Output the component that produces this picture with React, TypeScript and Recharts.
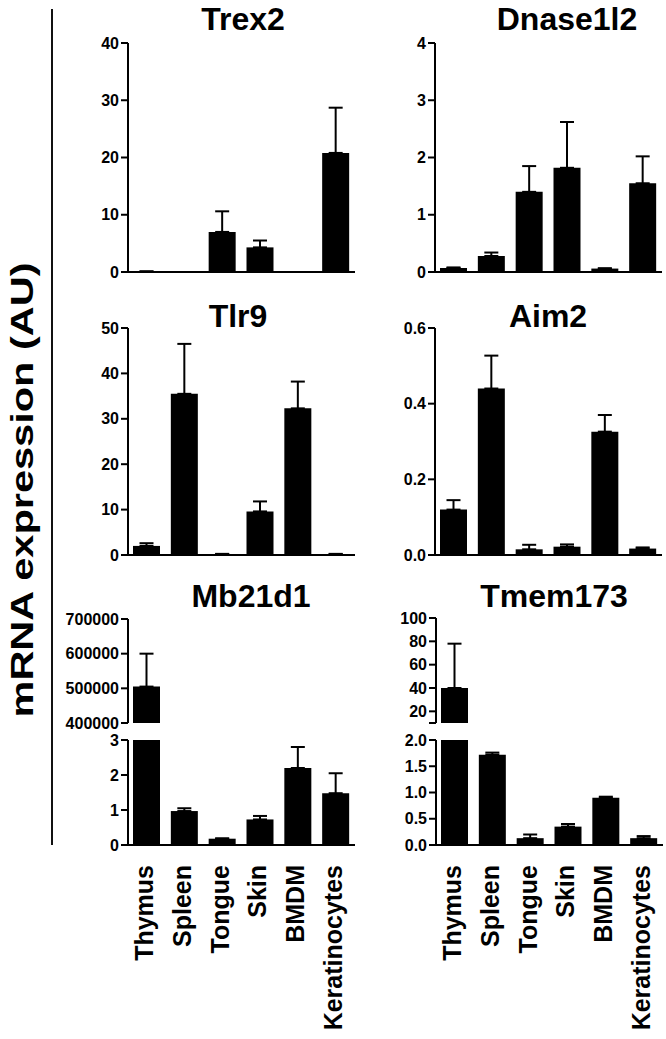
import { BarChart, Bar, XAxis, YAxis, ErrorBar } from "recharts";

const tissues = ["Thymus", "Spleen", "Tongue", "Skin", "BMDM", "Keratinocytes"];

// means and SEM
const trex2Mean = [0.1, 0, 7.0, 4.3, 0, 20.8];
const trex2Sem = [0, 0, 3.6, 1.2, 0, 7.9];

const dnaseMean = [0.07, 0.28, 1.4, 1.82, 0.06, 1.55];
const dnaseSem = [0.01, 0.06, 0.45, 0.8, 0.005, 0.47];

const tlr9Mean = [2.0, 35.5, 0.2, 9.6, 32.3, 0.2];
const tlr9Sem = [0.6, 11.0, 0.05, 2.2, 5.9, 0.05];

const aim2Mean = [0.12, 0.44, 0.015, 0.022, 0.326, 0.017];
const aim2Sem = [0.025, 0.087, 0.012, 0.006, 0.044, 0.003];

const mb21d1Mean = [505000, 0.97, 0.18, 0.73, 2.2, 1.48];
const mb21d1Sem = [95000, 0.08, 0.01, 0.1, 0.6, 0.57];

const tmemMean = [40, 1.72, 0.13, 0.35, 0.9, 0.13];
const tmemSem = [38, 0.04, 0.07, 0.05, 0.02, 0.04];

const trex2Ticks = [0, 10, 20, 30, 40];
const dnaseTicks = [0, 1, 2, 3, 4];
const tlr9Ticks = [0, 10, 20, 30, 40, 50];
const aim2Ticks = [0, 0.2, 0.4, 0.6];
const mbHighTicks = [400000, 500000, 600000, 700000];
const mbLowTicks = [0, 1, 2, 3];
const tmemHighTicks = [10, 20, 40, 60, 80, 100];
const tmemLowTicks = [0, 0.5, 1, 1.5, 2];

const FONT = "'Liberation Sans', Arial, Helvetica, sans-serif";
const YW = 72;
const PW = 227;
const PAD = 12;

const RotTick = (props: any) => {
  const { x, y, payload } = props;
  return (
    <text
      x={0}
      y={0}
      transform={`translate(${x + 6},${y + 20}) rotate(-90)`}
      textAnchor="end"
      fontSize={25}
      fontWeight="bold"
      fontFamily={FONT}
      fill="#000"
    >
      {payload.value}
    </text>
  );
};

type PanelProps = {
  axisX: number;
  plotTop: number;
  plotH: number;
  mean: number[];
  sem: number[];
  domain: [number, number];
  ticks: number[];
  fmt?: (v: number) => string;
  xMode: "line" | "labels" | "none";
  cut?: boolean;
};

function Panel(p: PanelProps) {
  const data = tissues.map((name, i) => {
    const keep = !p.cut || p.mean[i] >= p.domain[0];
    return {
      name,
      v: keep ? p.mean[i] : null,
      e: keep ? [0, p.sem[i]] : null,
    };
  });
  const xH = p.xMode === "labels" ? 190 : p.xMode === "line" ? 2 : 0;
  const bottom = 10;
  return (
    <div style={{ position: "absolute", left: p.axisX - YW, top: p.plotTop - PAD }}>
      <BarChart
        width={YW + PW + 6}
        height={PAD + p.plotH + xH + bottom}
        data={data}
        margin={{ top: PAD, right: 6, left: 0, bottom }}
        barSize={27}
      >
        <XAxis
          dataKey="name"
          hide={p.xMode === "none"}
          height={xH}
          interval={0}
          tickLine={false}
          tickSize={0}
          tickMargin={0}
          tick={p.xMode === "labels" ? <RotTick /> : false}
          axisLine={{ stroke: "#000", strokeWidth: 2 }}
        />
        <YAxis
          type="number"
          width={YW}
          domain={p.domain}
          ticks={p.ticks}
          allowDataOverflow
          interval={0}
          tickFormatter={p.fmt}
          tickSize={7}
          tickMargin={2}
          axisLine={{ stroke: "#000", strokeWidth: 2 }}
          tickLine={{ stroke: "#000", strokeWidth: 2 }}
          tick={{ fill: "#000", fontSize: 16, fontWeight: "bold", fontFamily: FONT }}
        />
        <Bar dataKey="v" fill="#000" isAnimationActive={false}>
          <ErrorBar dataKey="e" direction="y" width={7} stroke="#000" strokeWidth={2} />
        </Bar>
      </BarChart>
    </div>
  );
}

const oneDec = (v: number) => v.toFixed(1);
const hideTen = (v: number) => (v === 10 ? "" : String(v));

const titles = [
  { text: "Trex2", x: 243, y: 30 },
  { text: "Dnase1l2", x: 567, y: 30 },
  { text: "Tlr9", x: 238, y: 327 },
  { text: "Aim2", x: 548, y: 327 },
  { text: "Mb21d1", x: 251, y: 607 },
  { text: "Tmem173", x: 554, y: 607 },
];

export default function App() {
  return (
    <div style={{ position: "absolute", left: 0, top: 0, width: 666, height: 1039, background: "#fff" }}>
      <svg width={666} height={1039} style={{ position: "absolute", left: 0, top: 0 }}>
        <line x1={52} y1={9} x2={52} y2={845} stroke="#111" strokeWidth={2} />
        <text
          x={0}
          y={0}
          transform="translate(33,490) rotate(-90)"
          textAnchor="middle"
          fontSize={31}
          fontWeight="bold"
          fontFamily={FONT}
          textLength={455}
          lengthAdjust="spacingAndGlyphs"
        >
          mRNA expression (AU)
        </text>
        {titles.map((t) => (
          <text key={t.text} x={t.x} y={t.y} textAnchor="middle" fontSize={32} fontWeight="bold" fontFamily={FONT}>
            {t.text}
          </text>
        ))}
      </svg>

      <Panel axisX={128} plotTop={43} plotH={229} mean={trex2Mean} sem={trex2Sem} domain={[0, 40]} ticks={trex2Ticks} xMode="line" />
      <Panel axisX={435} plotTop={43} plotH={229} mean={dnaseMean} sem={dnaseSem} domain={[0, 4]} ticks={dnaseTicks} xMode="line" />

      <Panel axisX={128} plotTop={328} plotH={227} mean={tlr9Mean} sem={tlr9Sem} domain={[0, 50]} ticks={tlr9Ticks} xMode="line" />
      <Panel axisX={435} plotTop={328} plotH={227} mean={aim2Mean} sem={aim2Sem} domain={[0, 0.6]} ticks={aim2Ticks} fmt={oneDec} xMode="line" />

      <Panel axisX={128} plotTop={619} plotH={104} mean={mb21d1Mean} sem={mb21d1Sem} domain={[400000, 700000]} ticks={mbHighTicks} xMode="none" cut />
      <Panel axisX={128} plotTop={740} plotH={105} mean={mb21d1Mean} sem={mb21d1Sem} domain={[0, 3]} ticks={mbLowTicks} xMode="labels" />

      <Panel axisX={436} plotTop={618} plotH={105} mean={tmemMean} sem={tmemSem} domain={[10, 100]} ticks={tmemHighTicks} fmt={hideTen} xMode="none" cut />
      <Panel axisX={436} plotTop={740} plotH={105} mean={tmemMean} sem={tmemSem} domain={[0, 2]} ticks={tmemLowTicks} fmt={oneDec} xMode="labels" />
    </div>
  );
}
